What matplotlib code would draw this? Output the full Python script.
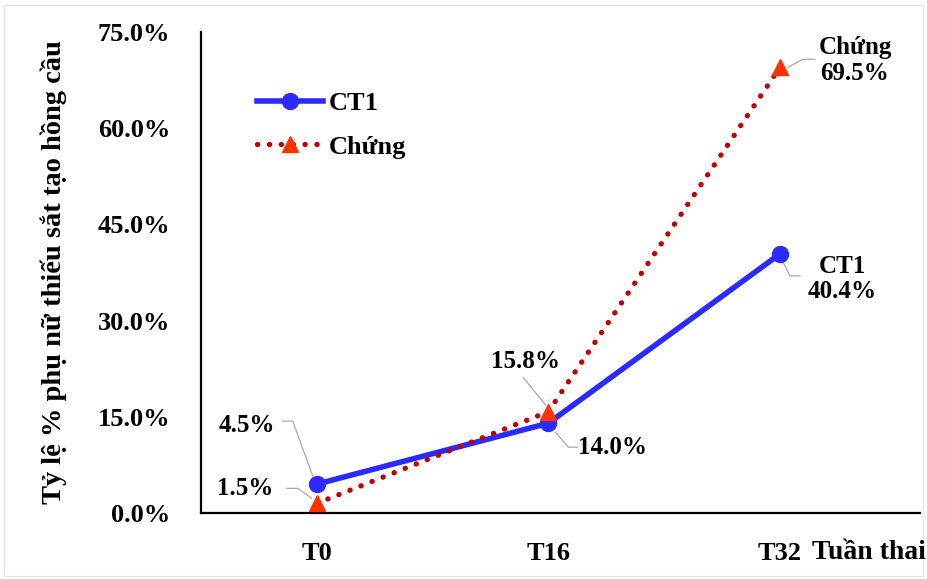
import numpy as np
import matplotlib.pyplot as plt
import matplotlib.transforms as mtrans
#
# data
#
weeks = ['T0', 'T16', 'T32']
ct1 = [4.5, 14.0, 40.4]
chung = [1.5, 15.8, 69.5]
yticks = [0, 15, 30, 45, 60, 75]
#
# style
#
plt.rcParams['font.family'] = ['Liberation Serif', 'DejaVu Serif']
plt.rcParams['font.weight'] = 'bold'
blue = '#2b2bff'
red_dot = '#c00000'
red_tri = '#ff3300'
grey = '#a8a8a8'

fig = plt.figure(figsize=(9.27, 5.79), dpi=100)
fig.patches.append(plt.Rectangle((0.004, 0.006), 0.992, 0.986, transform=fig.transFigure,
                                 fill=False, edgecolor='#e6e6e6', lw=1.0))
ax = fig.add_axes([0.2168, 0.114, 0.7757, 0.8307])

x = np.arange(len(weeks))
ax.plot(x, ct1, color=blue, lw=4.0, marker='o', ms=11.5, label='CT1', zorder=3)
ax.plot(x, chung, color=red_dot, lw=3.8, linestyle=(0, (0.05, 2.2)), dash_capstyle='round',
        marker='^', ms=12, mfc=red_tri, mec=red_tri, label='Chứng', zorder=4)

ax.set_xlim(-0.5, 2.605)
ax.set_ylim(0, 75)
ax.set_xticks(x)
ax.set_xticklabels(weeks)
ax.set_yticks(yticks)
ax.set_yticklabels(['%.1f%%' % v for v in yticks])
ax.tick_params(axis='y', length=0, pad=22, labelsize=19)
ax.tick_params(axis='x', length=0, pad=21, labelsize=19)
for s in ['top', 'right']:
  ax.spines[s].set_visible(False)
for s in ['left', 'bottom']:
  ax.spines[s].set_linewidth(1.6)
  ax.spines[s].set_color('black')

ax.set_ylabel('Tỷ lệ % phụ nữ thiếu sắt tạo hồng cầu', fontsize=20.5, fontweight='bold', labelpad=22)
fig.text(0.937, 0.045, 'Tuần thai', fontsize=20, fontweight='bold', ha='center', va='center')

leg = ax.legend(loc='upper left', bbox_to_anchor=(0.045, 0.925), frameon=False, fontsize=19,
                handlelength=2.5, labelspacing=0.75, handletextpad=0.2)
#
# value labels with grey leader lines (offsets in pixels from the point)
#
def label(txt, xi, yi, tpos, path):
  k = 0.72
  ax.annotate(txt, xy=(xi, yi), xytext=(tpos[0]*k, tpos[1]*k), textcoords='offset points',
              fontsize=18, fontweight='bold', ha='center', va='center', linespacing=1.15)
  lx = []
  ly = []
  for dx, dy in path:
    t = ax.transData + mtrans.ScaledTranslation(dx*k/72, dy*k/72, fig.dpi_scale_trans)
    disp = t.transform((xi, yi))
    lx.append(disp[0])
    ly.append(disp[1])
  ax.plot(lx, ly, color=grey, lw=0.9, transform=None, zorder=2)

label('%.1f%%' % ct1[0], x[0], ct1[0], (-70, 59), [(-4, 8), (-24, 63), (-34, 63)])
label('%.1f%%' % chung[0], x[0], chung[0], (-72, 15), [(-5, 5), (-19, 15), (-30, 15)])
label('%.1f%%' % chung[1], x[1], chung[1], (-23, 50), [(-3, 7), (-25, 34)])
label('%.1f%%' % ct1[1], x[1], ct1[1], (64, -24), [(7, -9), (20, -24), (29, -24)])
label('Chứng\n%.1f%%' % chung[2], x[2], chung[2], (75, 7), [(8, 0), (23, 8), (35, 8)])
label('CT1\n%.1f%%' % ct1[2], x[2], ct1[2], (62, -25), [(3, -8), (10, -22), (20, -22)])

fig.savefig('out.png', dpi=100)
